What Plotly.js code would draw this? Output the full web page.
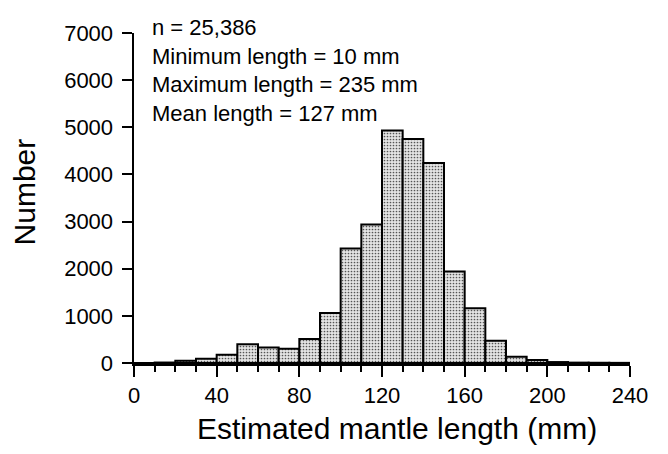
<!DOCTYPE html>
<html>
<head>
<meta charset="utf-8">
<script src="https://cdn.plot.ly/plotly-3.0.1.min.js"></script>
<style>
  html, body { margin: 0; padding: 0; background: #fff; }
  #chart { width: 668px; height: 454px; }
</style>
</head>
<body>
<div id="chart"></div>
<script>
// 10 mm bins, left edge of each bin
const binLeft = [0, 10, 20, 30, 40, 50, 60, 70, 80, 90, 100, 110,
  120, 130, 140, 150, 160, 170, 180, 190, 200, 210, 220, 230];
const counts = [0, 10, 50, 90, 175, 400, 330, 300, 510, 1060, 2430, 2940,
  4930, 4750, 4240, 1940, 1160, 470, 135, 65, 20, 8, 5, 3];

const xTicks = [0, 40, 80, 120, 160, 200, 240];
const yTicks = [0, 1000, 2000, 3000, 4000, 5000, 6000, 7000];

const statLines = [
  'n = 25,386',
  'Minimum length = 10 mm',
  'Maximum length = 235 mm',
  'Mean length = 127 mm'
];

const FONT = '"Liberation Sans", Arial, Helvetica, sans-serif';

const trace = {
  type: 'bar',
  x: binLeft,
  y: counts,
  width: 10,
  offset: 0,
  marker: {
    color: '#dcdcdc',
    line: { color: '#000', width: 2 },
    pattern: { shape: '.', fgcolor: '#555', bgcolor: '#e4e4e4', size: 3, solidity: 0.25 }
  },
  hoverinfo: 'x+y'
};

const layout = {
  width: 668,
  height: 454,
  margin: { l: 134, r: 38, t: 33, b: 91 },
  paper_bgcolor: '#fff',
  plot_bgcolor: '#fff',
  font: { family: FONT, color: '#000', size: 22 },
  showlegend: false,
  bargap: 0,
  xaxis: {
    range: [0, 240],
    tickvals: xTicks,
    ticks: 'outside',
    ticklen: 11,
    tickwidth: 2,
    tickcolor: '#000',
    minor: { dtick: 10, ticks: 'outside', ticklen: 6, tickwidth: 2, tickcolor: '#000' },
    showline: true,
    linecolor: '#000',
    linewidth: 3,
    showgrid: false,
    zeroline: false,
    tickfont: { size: 22 },
    fixedrange: true
  },
  yaxis: {
    range: [0, 7000],
    tickvals: yTicks,
    ticks: 'outside',
    ticklen: 10,
    tickwidth: 2,
    tickcolor: '#000',
    ticklabelstandoff: 4,
    showline: true,
    linecolor: '#000',
    linewidth: 2.5,
    showgrid: false,
    zeroline: false,
    tickfont: { size: 22 },
    fixedrange: true
  },
  annotations: [
    {
      xref: 'paper', yref: 'paper',
      x: 0.032, y: 1.06,
      xanchor: 'left', yanchor: 'top', align: 'left',
      showarrow: false,
      text: statLines.join('<br>'),
      font: { size: 22 }
    },
    {
      xref: 'paper', yref: 'paper',
      x: 0.53, y: -0.197,
      xanchor: 'center', yanchor: 'middle',
      showarrow: false,
      text: 'Estimated mantle length (mm)',
      font: { size: 30 }
    },
    {
      xref: 'paper', yref: 'paper',
      x: -0.221, y: 0.518,
      xanchor: 'center', yanchor: 'middle',
      textangle: -90,
      showarrow: false,
      text: 'Number',
      font: { size: 30 }
    }
  ]
};

Plotly.newPlot('chart', [trace], layout, { displayModeBar: false, staticPlot: true });
</script>
</body>
</html>
